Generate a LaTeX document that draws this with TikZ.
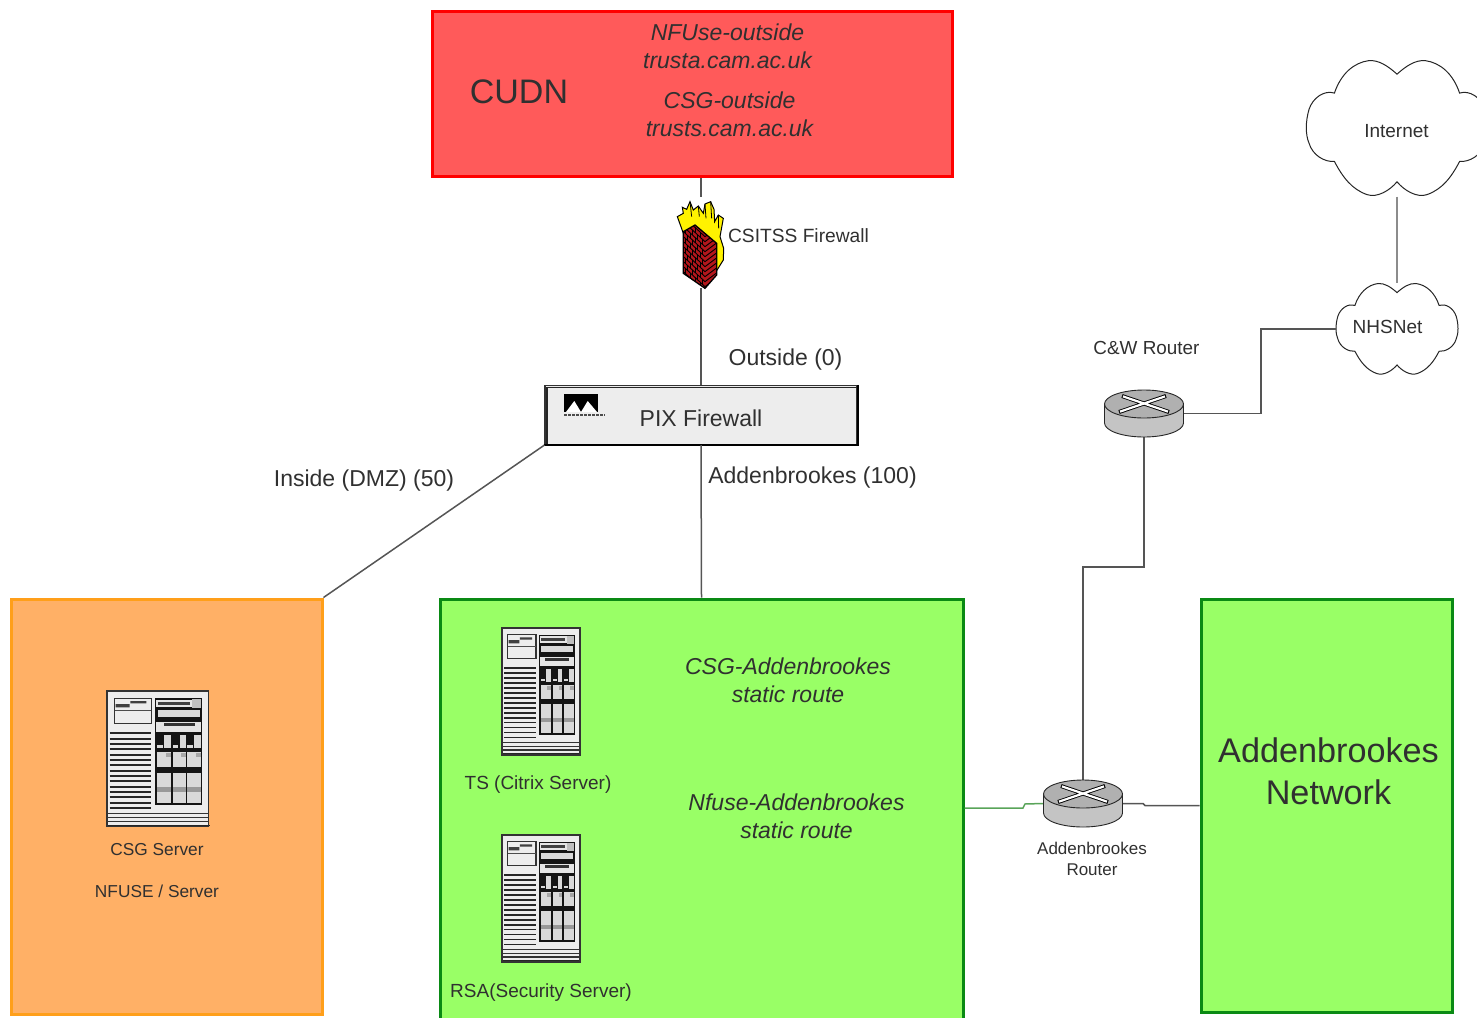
\documentclass[tikz,border=0pt]{standalone}
\usepackage{fontspec}
\setmainfont{Liberation Sans}
\usetikzlibrary{calc}
\definecolor{txt}{HTML}{303030}
\definecolor{wire}{HTML}{555555}
\definecolor{redfill}{HTML}{FF5A5A}
\definecolor{orangefill}{HTML}{FFB066}
\definecolor{orangeline}{HTML}{FF9F1A}
\definecolor{greenfill}{HTML}{99FF66}
\definecolor{greenline}{HTML}{0A8A14}
\definecolor{routergray}{HTML}{C4C4C4}
\definecolor{brick}{HTML}{B3161B}
\newcommand{\fsz}[2]{\fontsize{#1}{#2}\selectfont}
\tikzset{
  x=1pt,y=-1pt,
  lbl/.style={inner sep=0pt,text=txt,align=center},
  lblS/.style={lbl,font=\fsz{17.3}{21}},
  lblM/.style={lbl,font=\fsz{19}{23}},
  lblL/.style={lbl,font=\fsz{23}{28}},
  lblI/.style={lbl,font=\fsz{23}{28}\itshape},
  zone/.style={draw,line width=3pt,inner sep=0pt},
  wireline/.style={draw=wire,line width=1.5pt},
  greenwire/.style={draw=green!45!black!65!white,line width=1.5pt},
  pics/serverrack/.style={code={
    \begin{scope}[shift={(-52,-33)}]
      \fill[white!93!black] (52,33) rectangle (357,440);
      \foreach \yy in {160,176,...,392} \draw[black!85,line width=1.9pt] (60,\yy) -- (185,\yy);
      \foreach \yy in {400,412,424} \draw[black!80,line width=1.3pt] (52,\yy) -- (357,\yy);
      \draw[black!85,line width=1.6pt] (49,437) -- (360,437);
      \draw[black!80,line width=1.2pt] (75,55) rectangle (185,130);
      \draw[black!70,line width=.8pt] (75,92) -- (185,92);
      \fill[black!75] (78,72) rectangle (120,82) (122,63) rectangle (170,70);
      \fill[black!92] (195,55) rectangle (338,375);
      \fill[white!90!black] (200,60) rectangle (335,82);
      \fill[black!75] (205,66) rectangle (300,76);
      \fill[black!25] (306,58) rectangle (335,85);
      \fill[white!85!black] (205,90) rectangle (330,110);
      \fill[white!90!black] (200,125) rectangle (335,155);
      \fill[black!80] (222,128) rectangle (315,138);
      \foreach \xa/\xb in {203/243,250/288,293/333}{
        \fill[white!85!black] ({\xa+20},165) rectangle (\xb,205);
        \fill[white!85!black] (\xa,195) rectangle ({\xa+16},203);
        \fill[white!85!black] (\xa,215) rectangle (\xb,262);
        \fill[black!35] ({\xb-14},218) rectangle (\xb,232);
        \fill[white!85!black] (\xa,278) rectangle (\xb,368);
        \fill[black!40] (\xa,320) rectangle (\xb,335);
      }
      \draw[black!80,line width=1.3pt] (52,33) rectangle (357,440);
    \end{scope}
  }},
  pics/routericon/.style={code={
    \draw[black!85,fill=routergray,line width=.9pt] (-39.5,0) -- (-39.5,19) arc[start angle=180,end angle=0,x radius=39.5,y radius=14] -- (39.5,0);
    \draw[black!85,fill=routergray!90!black,line width=.9pt] (0,0) ellipse[x radius=39.5,y radius=14];
    \draw[black,line width=4pt] (-22,-8) -- (25,8) (22,-8) -- (-25,8);
    \draw[white,line width=2.2pt] (-21,-7.6) -- (24,7.6) (21,-7.6) -- (-24,7.6);
  }},
  pics/cloudicon/.style={code={
    \draw[black!85,line width=1pt,fill=white] (0,-.80)
      .. controls (.10,-.92) and (.20,-1.01) .. (.31,-1)
      .. controls (.48,-.97) and (.62,-.80) .. (.69,-.52)
      .. controls (.80,-.57) and (.93,-.45) .. (.97,-.28)
      .. controls (1.01,-.1) and (1.01,.1) .. (.97,.22)
      .. controls (.93,.40) and (.80,.50) .. (.69,.49)
      .. controls (.60,.72) and (.50,.90) .. (.33,.98)
      .. controls (.22,1.03) and (.08,.92) .. (0,.79)
      .. controls (-.08,.92) and (-.22,1.03) .. (-.33,.98)
      .. controls (-.50,.90) and (-.60,.72) .. (-.69,.49)
      .. controls (-.80,.50) and (-.93,.40) .. (-.97,.22)
      .. controls (-1.01,.1) and (-1.01,-.1) .. (-.97,-.28)
      .. controls (-.93,-.45) and (-.80,-.57) .. (-.69,-.52)
      .. controls (-.62,-.80) and (-.48,-.97) .. (-.31,-1)
      .. controls (-.20,-1.01) and (-.10,-.92) .. (0,-.80) -- cycle;
  }},
}
\begin{document}
\begin{tikzpicture}
\useasboundingbox (0,0) rectangle (1477,1017);

% zones
\node[zone,draw=red,fill=redfill,minimum width=520pt,minimum height=165pt] (cudn) at (692,93.5) {};
\node[zone,draw=orangeline,fill=orangefill,minimum width=311pt,minimum height=415pt] (org) at (166.5,806.5) {};
\node[zone,draw=greenline,fill=greenfill,minimum width=523pt,minimum height=425pt] (grn) at (701.5,811.5) {};
\node[zone,draw=greenline,fill=greenfill,minimum width=251pt,minimum height=413pt] (addb) at (1326.5,805.5) {};

% invisible anchors of the icons
\node[inner sep=0pt,minimum width=46pt,minimum height=91pt] (fw) at (701,242.5) {};
\node[inner sep=0pt,minimum width=80pt,minimum height=47pt] (cwr) at (1144,413.5) {};
\node[inner sep=0pt,minimum width=80pt,minimum height=47pt] (addr) at (1083,803.5) {};

% pix
\node[draw=black!80,fill=white!93!black,line width=1.2pt,inner sep=0pt,minimum width=312pt,minimum height=59pt] (pix) at (701,415) {};
\draw[black!85,line width=1.2pt] ([shift={(2.5,2.5)}]pix.north west) -- ([shift={(-1,2.5)}]pix.north east);
\draw[black!85,line width=1.2pt] ([shift={(2.5,2.5)}]pix.north west) -- ([shift={(2.5,-1)}]pix.south west);
\draw[black,line width=2pt] (pix.north east) -- (pix.south east) -- (pix.south west);
\node[lblL] (pixtxt) at (701,418.5) {PIX Firewall};
\fill[black] (564,394) rectangle (598,412);
\fill[white] (566,412) -- (574.3,401) -- (581,412) -- (587.7,401) -- (597,412) -- cycle;
\draw[black!70,line width=2pt,dash pattern=on 3pt off 1pt] (564,414.5) -- (605,414.5);

% clouds
\pic[xscale=90.7,yscale=67.7] at (1397,128.3) {cloudicon};
\pic[xscale=61,yscale=45.5] at (1397,329) {cloudicon};
\node[inner sep=0pt,minimum width=181pt,minimum height=135pt] (inet) at (1397,129) {};
\node[inner sep=0pt,minimum width=122pt,minimum height=92pt] (nhs) at (1397,329) {};
\node[lblM] (inettxt) at (1396.5,131) {Internet};
\node[lblM] (nhstxt) at (1387.5,326.5) {NHSNet};

% connectors
\draw[wireline] (cudn.south -| fw.north) -- (fw.north);
\draw[wireline] (fw.south) -- (pix.north);
\draw[wireline] (pix.south) -- (grn.north);
\draw[wireline] (pix.south west) -- (org.north east);
\draw[draw=black!45,line width=2pt] (inet.south) -- (nhs.north);
\coordinate (jn) at (1261,370);
\draw[wireline] (cwr.east) -| (jn) |- (nhs.west);
\coordinate (bend) at (1083,567);
\draw[wireline] (addr.north) |- (bend) -| (cwr.south);
\coordinate (gy) at (0,808);
\coordinate (s1) at (1023,808);
\coordinate (s2) at (1025,804);
\coordinate (s3) at (1143,803.5);
\coordinate (s4) at (1145,805.5);
\draw[greenwire] (grn.east |- gy) -- (s1) -- (s2) -- (addr.west);
\draw[wireline] (addr.east) -- (s3) -- (s4) -- (addb.west);

% routers
\pic at (1144,404) {routericon};
\pic at (1083,794) {routericon};

% firewall
\begin{scope}[shift={(640,180)},scale=.3333]
  \draw[black,line width=1pt,fill=yellow] (130,160) -- (112,110) -- (130,100) -- (127,82) -- (140,88) -- (150,65) -- (160,90) -- (175,78) -- (190,100) -- (195,72) -- (212,65) -- (222,88) -- (224,125) -- (235,105) -- (250,115) -- (240,170) -- (251,205) -- (250,240) -- (230,272) -- (200,250) -- cycle;
  \draw[black,line width=.8pt] (150,65) -- (155,110) (175,78) -- (178,110) (195,72) -- (198,115) (212,65) -- (215,115) (235,105) -- (236,145);
  \fill[brick] (130,155) -- (165,135) -- (230,190) -- (230,285) -- (195,325) -- (130,280) -- cycle;
  \begin{scope}
    \clip (130,155) -- (165,135) -- (230,190) -- (230,285) -- (195,325) -- (130,280) -- cycle;
    \foreach \k in {0,...,15}{
      \draw[black,line width=.9pt] (125,{105+\k*15}) -- (195,{170+\k*15}) -- (235,{140+\k*15});
    }
    \foreach \k in {0,...,15}{
      \foreach \m in {0,1,2,3}{
        \draw[black,line width=.9pt] ({136+\m*15+(mod(\k,2))*7.5},{105+\k*15+(\m*15+(mod(\k,2))*7.5+11)*.93}) -- +(0,15);
      }
    }
  \end{scope}
  \draw[black,line width=1.3pt] (130,155) -- (165,135) -- (230,190) -- (230,285) -- (195,325) -- (130,280) -- cycle;
\end{scope}

% servers
\pic[xscale=.3333,yscale=.3333] at (107,691) {serverrack};
\pic[xscale=.2557,yscale=.312] at (502,628) {serverrack};
\pic[xscale=.2557,yscale=.312] at (502,835) {serverrack};

% labels
\node[lbl,font=\fsz{34}{40}] (cudntxt) at (519,92) {CUDN};
\node[lblI] (nfo) at (727.5,46) {NFUse-outside\\trusta.cam.ac.uk};
\node[lblI] (cso) at (729.5,114) {CSG-outside\\trusts.cam.ac.uk};
\node[lbl,font=\fsz{19.2}{23}] (fwtxt) at (798.5,236) {CSITSS Firewall};
\node[lblL] (outs) at (785.5,360) {Outside (0)};
\node[lblL] (dmz) at (364,481) {Inside (DMZ) (50)};
\node[lblL] (a100) at (812.5,478) {Addenbrookes (100)};
\node[lblS] (csgtxt) at (157,850) {CSG Server};
\node[lblS] (nfs) at (157,891) {NFUSE / Server};
\node[lbl,font=\fsz{19}{22}] (tstxt) at (538,785) {TS (Citrix Server)};
\node[lbl,font=\fsz{19}{22}] (rsatxt) at (541,992.5) {RSA(Security Server)};
\node[lblI] (csa) at (788,680) {CSG-Addenbrookes\\static route};
\node[lblI] (nfa) at (796.5,816) {Nfuse-Addenbrookes\\static route};
\node[lbl,font=\fsz{17}{21}] (addrt) at (1092,859) {Addenbrookes\\Router};
\node[lbl,font=\fsz{18.9}{23}] (cwt) at (1146.5,348) {C\&W Router};
\node[lbl,font=\fsz{34.2}{42}] (addnet) at (1328.5,771.5) {Addenbrookes\\Network};
\end{tikzpicture}
\end{document}
